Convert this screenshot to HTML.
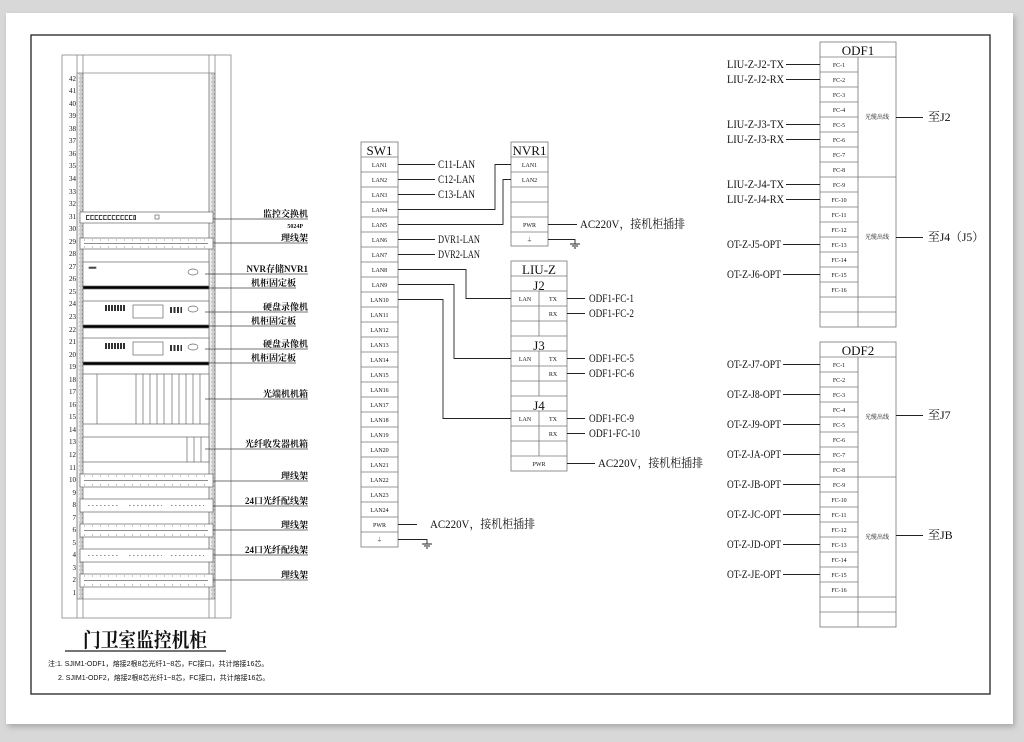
<!DOCTYPE html>
<html><head><meta charset="utf-8"><style>
html,body{margin:0;padding:0;background:#d8d8d8;width:1024px;height:742px;overflow:hidden}
svg{display:block}
text{font-family:"Liberation Serif","Noto Serif CJK SC","Noto Sans CJK SC",serif;fill:#111}
.s{font-size:6px}
.m{font-size:12px}
.r{font-size:9px;font-weight:bold}
</style></head><body>
<svg width="1024" height="742" viewBox="0 0 1024 742" xmlns="http://www.w3.org/2000/svg">
<defs>
<pattern id="rail" width="6" height="4" patternUnits="userSpaceOnUse"><rect width="6" height="4" fill="#eee"/><circle cx="3" cy="2" r="1.2" fill="none" stroke="#999" stroke-width="0.6"/></pattern>
<filter id="sh" x="-5%" y="-5%" width="110%" height="110%"><feDropShadow dx="2" dy="3" stdDeviation="3" flood-color="#888" flood-opacity="0.6"/></filter>
</defs>
<rect x="6" y="13" width="1007" height="711" fill="#fff" filter="url(#sh)"/>
<rect x="31" y="35" width="959" height="659" fill="none" stroke="#222" stroke-width="1.3"/>

<!-- RACK -->
<g stroke="#888" stroke-width="0.8" fill="none">
<rect x="62" y="55" width="169" height="563"/>
<rect x="77" y="73" width="6" height="526" fill="url(#rail)"/>
<rect x="209" y="73" width="6" height="526" fill="url(#rail)"/>
<line x1="77" y1="55" x2="77" y2="618"/><line x1="83" y1="55" x2="83" y2="618"/>
<line x1="209" y1="55" x2="209" y2="618"/><line x1="215" y1="55" x2="215" y2="618"/>
<line x1="83" y1="73" x2="209" y2="73"/>
<line x1="83" y1="599" x2="209" y2="599"/>
</g>
<g font-size="7" text-anchor="end" style="font-family:'Liberation Serif',serif">
<text x="76" y="81">42</text><text x="76" y="93">41</text><text x="76" y="106">40</text><text x="76" y="118">39</text><text x="76" y="131">38</text><text x="76" y="143">37</text><text x="76" y="156">36</text><text x="76" y="168">35</text><text x="76" y="181">34</text><text x="76" y="194">33</text><text x="76" y="206">32</text><text x="76" y="219">31</text><text x="76" y="231">30</text><text x="76" y="244">29</text><text x="76" y="256">28</text><text x="76" y="269">27</text><text x="76" y="281">26</text><text x="76" y="294">25</text><text x="76" y="306">24</text><text x="76" y="319">23</text><text x="76" y="332">22</text><text x="76" y="344">21</text><text x="76" y="357">20</text><text x="76" y="369">19</text><text x="76" y="382">18</text><text x="76" y="394">17</text><text x="76" y="407">16</text><text x="76" y="419">15</text><text x="76" y="432">14</text><text x="76" y="444">13</text><text x="76" y="457">12</text><text x="76" y="470">11</text><text x="76" y="482">10</text><text x="76" y="495">9</text><text x="76" y="507">8</text><text x="76" y="520">7</text><text x="76" y="532">6</text><text x="76" y="545">5</text><text x="76" y="557">4</text><text x="76" y="570">3</text><text x="76" y="582">2</text><text x="76" y="595">1</text>
</g>
<g stroke="#666" stroke-width="0.7" fill="#fff">
<rect x="80" y="212" width="133" height="11"/>
<line x1="86" y1="217.5" x2="136" y2="217.5" stroke="#444" stroke-width="5" stroke-dasharray="3.5 0.8"/>
<line x1="87" y1="217.5" x2="135" y2="217.5" stroke="#fff" stroke-width="3" stroke-dasharray="2.5 1.8"/>
<rect x="155" y="215" width="4" height="4"/>
<rect x="80" y="238" width="133" height="11"/>
<line x1="84" y1="240" x2="208" y2="240" stroke-dasharray="1 7"/>
<line x1="84" y1="243.5" x2="208" y2="243.5"/>
<line x1="84" y1="247" x2="208" y2="247" stroke-dasharray="1 7"/>
<rect x="83" y="262" width="126" height="26"/>
<rect x="83" y="286" width="126" height="3" fill="#000"/>
<ellipse cx="193" cy="272" rx="5" ry="3"/>
<rect x="89" y="267" width="7" height="1.5" fill="#333"/>
<rect x="83" y="301" width="126" height="26"/>
<rect x="83" y="325" width="126" height="3" fill="#000"/>
<rect x="133" y="305" width="30" height="13"/><ellipse cx="193" cy="309" rx="5" ry="3"/>
<line x1="105" y1="308" x2="125" y2="308" stroke="#333" stroke-width="6" stroke-dasharray="2 1"/>
<line x1="170" y1="310" x2="182" y2="310" stroke="#333" stroke-width="6" stroke-dasharray="2 1.5"/>
<rect x="83" y="338" width="126" height="26"/>
<rect x="83" y="362" width="126" height="3" fill="#000"/>
<rect x="133" y="342" width="30" height="13"/><ellipse cx="193" cy="347" rx="5" ry="3"/>
<line x1="105" y1="346" x2="125" y2="346" stroke="#333" stroke-width="6" stroke-dasharray="2 1"/>
<line x1="170" y1="348" x2="182" y2="348" stroke="#333" stroke-width="6" stroke-dasharray="2 1.5"/>
<rect x="83" y="374" width="126" height="50"/>
<line x1="97" y1="374" x2="97" y2="424"/><line x1="136" y1="374" x2="136" y2="424"/><line x1="143" y1="374" x2="143" y2="424"/><line x1="150" y1="374" x2="150" y2="424"/><line x1="157" y1="374" x2="157" y2="424"/><line x1="164" y1="374" x2="164" y2="424"/><line x1="172" y1="374" x2="172" y2="424"/><line x1="179" y1="374" x2="179" y2="424"/><line x1="186" y1="374" x2="186" y2="424"/><line x1="193" y1="374" x2="193" y2="424"/><line x1="200" y1="374" x2="200" y2="424"/>
<rect x="83" y="437" width="126" height="25"/>
<line x1="187" y1="437" x2="187" y2="462"/><line x1="194" y1="437" x2="194" y2="462"/><line x1="201" y1="437" x2="201" y2="462"/>
<rect x="80" y="474" width="133" height="13"/>
<line x1="84" y1="476" x2="208" y2="476" stroke-dasharray="1 7"/><line x1="84" y1="480.5" x2="208" y2="480.5"/><line x1="84" y1="485" x2="208" y2="485" stroke-dasharray="1 7"/>
<rect x="80" y="499" width="133" height="13"/>
<line x1="88" y1="505.5" x2="120" y2="505.5" stroke-dasharray="1.5 2.5"/><line x1="129" y1="505.5" x2="162" y2="505.5" stroke-dasharray="1.5 2.5"/><line x1="171" y1="505.5" x2="204" y2="505.5" stroke-dasharray="1.5 2.5"/>
<rect x="80" y="524" width="133" height="13"/>
<line x1="84" y1="526" x2="208" y2="526" stroke-dasharray="1 7"/><line x1="84" y1="530.5" x2="208" y2="530.5"/><line x1="84" y1="535" x2="208" y2="535" stroke-dasharray="1 7"/>
<rect x="80" y="549" width="133" height="13"/>
<line x1="88" y1="555.5" x2="120" y2="555.5" stroke-dasharray="1.5 2.5"/><line x1="129" y1="555.5" x2="162" y2="555.5" stroke-dasharray="1.5 2.5"/><line x1="171" y1="555.5" x2="204" y2="555.5" stroke-dasharray="1.5 2.5"/>
<rect x="80" y="574" width="133" height="13"/>
<line x1="84" y1="576" x2="208" y2="576" stroke-dasharray="1 7"/><line x1="84" y1="580.5" x2="208" y2="580.5"/><line x1="84" y1="585" x2="208" y2="585" stroke-dasharray="1 7"/>
</g>
<g stroke="#444" stroke-width="0.8">
<line x1="213" y1="219" x2="308" y2="219"/><line x1="213" y1="243" x2="308" y2="243"/><line x1="205" y1="274" x2="308" y2="274"/><line x1="209" y1="288" x2="296" y2="288"/><line x1="205" y1="312" x2="308" y2="312"/><line x1="209" y1="326" x2="296" y2="326"/><line x1="205" y1="349" x2="308" y2="349"/><line x1="209" y1="363" x2="296" y2="363"/><line x1="205" y1="399" x2="308" y2="399"/><line x1="205" y1="449" x2="308" y2="449"/><line x1="213" y1="481" x2="308" y2="481"/><line x1="213" y1="506" x2="308" y2="506"/><line x1="213" y1="530" x2="308" y2="530"/><line x1="213" y1="555" x2="308" y2="555"/><line x1="213" y1="580" x2="308" y2="580"/>
</g>
<g class="r" text-anchor="end">
<text class="r" x="308" y="217">监控交换机</text><text x="303" y="228" style="font-size:6px">5024P</text>
<text class="r" x="308" y="241">理线架</text>
<text class="r" x="308" y="272">NVR存储NVR1</text>
<text class="r" x="296" y="286">机柜固定板</text>
<text class="r" x="308" y="310">硬盘录像机</text>
<text class="r" x="296" y="324">机柜固定板</text>
<text class="r" x="308" y="347">硬盘录像机</text>
<text class="r" x="296" y="361">机柜固定板</text>
<text class="r" x="308" y="397">光端机机箱</text>
<text class="r" x="308" y="447">光纤收发器机箱</text>
<text class="r" x="308" y="479">理线架</text>
<text class="r" x="308" y="504">24口光纤配线架</text>
<text class="r" x="308" y="528">理线架</text>
<text class="r" x="308" y="553">24口光纤配线架</text>
<text class="r" x="308" y="578">理线架</text>
</g>
<text x="83" y="647" textLength="124" lengthAdjust="spacingAndGlyphs" style="font-size:20px;font-weight:bold">门卫室监控机柜</text>
<line x1="65" y1="651" x2="226" y2="651" stroke="#222" stroke-width="1.2"/>
<text x="48" y="666" style="font-size:7px;font-family:'Liberation Sans','Noto Sans CJK SC',sans-serif">注:1. SJIM1-ODF1，熔接2根8芯光纤1~8芯，FC接口，共计熔接16芯。</text>
<text x="58" y="680" style="font-size:7px;font-family:'Liberation Sans','Noto Sans CJK SC',sans-serif">2. SJIM1-ODF2，熔接2根8芯光纤1~8芯，FC接口，共计熔接16芯。</text>

<g stroke="#777" stroke-width="0.8" fill="none">
<rect x="361" y="142" width="37" height="405"/>
<path d="M361 157H398M361 172H398M361 187H398M361 202H398M361 217H398M361 232H398M361 247H398M361 262H398M361 277H398M361 292H398M361 307H398M361 322H398M361 337H398M361 352H398M361 367H398M361 382H398M361 397H398M361 412H398M361 427H398M361 442H398M361 457H398M361 472H398M361 487H398M361 502H398M361 517H398M361 532H398"/>
<rect x="511" y="142" width="37" height="104"/>
<path d="M511 157H548M511 172H548M511 187H548M511 202H548M511 217H548M511 232H548"/>
<rect x="511" y="261" width="56" height="210"/>
<path d="M511 276H567M511 291H567M511 306H567M511 321H567M511 336H567M511 351H567M511 366H567M511 381H567M511 396H567M511 411H567M511 426H567M511 441H567M511 456H567"/>
<path d="M539 291V336M539 351V396M539 411V456"/>
</g>
<g text-anchor="middle">
<text x="379.5" y="155" font-size="13">SW1</text>
<text class="s" x="379.5" y="167">LAN1</text><text class="s" x="379.5" y="182">LAN2</text><text class="s" x="379.5" y="197">LAN3</text><text class="s" x="379.5" y="212">LAN4</text><text class="s" x="379.5" y="227">LAN5</text><text class="s" x="379.5" y="242">LAN6</text><text class="s" x="379.5" y="257">LAN7</text><text class="s" x="379.5" y="272">LAN8</text><text class="s" x="379.5" y="287">LAN9</text><text class="s" x="379.5" y="302">LAN10</text><text class="s" x="379.5" y="317">LAN11</text><text class="s" x="379.5" y="332">LAN12</text><text class="s" x="379.5" y="347">LAN13</text><text class="s" x="379.5" y="362">LAN14</text><text class="s" x="379.5" y="377">LAN15</text><text class="s" x="379.5" y="392">LAN16</text><text class="s" x="379.5" y="407">LAN17</text><text class="s" x="379.5" y="422">LAN18</text><text class="s" x="379.5" y="437">LAN19</text><text class="s" x="379.5" y="452">LAN20</text><text class="s" x="379.5" y="467">LAN21</text><text class="s" x="379.5" y="482">LAN22</text><text class="s" x="379.5" y="497">LAN23</text><text class="s" x="379.5" y="512">LAN24</text><text class="s" x="379.5" y="527">PWR</text><text class="s" x="379.5" y="542" font-size="8">⏚</text>
<text x="529.5" y="155" font-size="13">NVR1</text>
<text class="s" x="529.5" y="167">LAN1</text><text class="s" x="529.5" y="182">LAN2</text><text class="s" x="529.5" y="227">PWR</text><text class="s" x="529.5" y="242">⏚</text>
<text x="539" y="274" font-size="13">LIU-Z</text>
<text x="539" y="290" font-size="13">J2</text><text x="539" y="350" font-size="13">J3</text><text x="539" y="410" font-size="13">J4</text>
<text class="s" x="525" y="301">LAN</text><text class="s" x="553" y="301">TX</text><text class="s" x="553" y="316">RX</text>
<text class="s" x="525" y="361">LAN</text><text class="s" x="553" y="361">TX</text><text class="s" x="553" y="376">RX</text>
<text class="s" x="525" y="421">LAN</text><text class="s" x="553" y="421">TX</text><text class="s" x="553" y="436">RX</text>
<text class="s" x="539" y="466">PWR</text>
</g>
<g stroke="#222" stroke-width="0.9" fill="none">
<path d="M398 164.5H435M398 179.5H435M398 194.5H435M398 239.5H435M398 254.5H435"/>
<path d="M398 209.5H495V164.5H511M398 224.5H503V179.5H511"/>
<path d="M398 269.5H466V298.5H511M398 284.5H454V358.5H511M398 299.5H443V418.5H511"/>
<path d="M548 224.5H577M548 239.5H575V244M570 244H580M572 246H578M574 248H576"/>
<path d="M398 524.5H417M398 539.5H427V544M422 544H432M424 546H430M426 548H428"/>
<path d="M567 298.5H585M567 313.5H585M567 358.5H585M567 373.5H585M567 418.5H585M567 433.5H585M567 463.5H595"/>
</g>
<g class="m" lengthAdjust="spacingAndGlyphs">
<text x="438" y="168" textLength="37" lengthAdjust="spacingAndGlyphs">C11-LAN</text><text x="438" y="183" textLength="37" lengthAdjust="spacingAndGlyphs">C12-LAN</text><text x="438" y="198" textLength="37" lengthAdjust="spacingAndGlyphs">C13-LAN</text>
<text x="438" y="243" textLength="42" lengthAdjust="spacingAndGlyphs">DVR1-LAN</text><text x="438" y="258" textLength="42" lengthAdjust="spacingAndGlyphs">DVR2-LAN</text>
<text x="580" y="228" textLength="105" lengthAdjust="spacingAndGlyphs">AC220V，接机柜插排</text>
<text x="430" y="528" textLength="105" lengthAdjust="spacingAndGlyphs">AC220V，接机柜插排</text>
<text x="589" y="302" textLength="45" lengthAdjust="spacingAndGlyphs">ODF1-FC-1</text><text x="589" y="317" textLength="45" lengthAdjust="spacingAndGlyphs">ODF1-FC-2</text>
<text x="589" y="362" textLength="45" lengthAdjust="spacingAndGlyphs">ODF1-FC-5</text><text x="589" y="377" textLength="45" lengthAdjust="spacingAndGlyphs">ODF1-FC-6</text>
<text x="589" y="422" textLength="45" lengthAdjust="spacingAndGlyphs">ODF1-FC-9</text><text x="589" y="437" textLength="51" lengthAdjust="spacingAndGlyphs">ODF1-FC-10</text>
<text x="598" y="467" textLength="105" lengthAdjust="spacingAndGlyphs">AC220V，接机柜插排</text>
</g>

<g stroke="#777" stroke-width="0.8" fill="none">
<rect x="820" y="42" width="76" height="285"/>
<path d="M820 57H896M858 57V327M820 72H858M820 87H858M820 102H858M820 117H858M820 132H858M820 147H858M820 162H858M820 177H896M820 192H858M820 207H858M820 222H858M820 237H858M820 252H858M820 267H858M820 282H858M820 297H896M820 312H896"/>
<rect x="820" y="342" width="76" height="285"/>
<path d="M820 357H896M858 357V627M820 372H858M820 387H858M820 402H858M820 417H858M820 432H858M820 447H858M820 462H858M820 477H896M820 492H858M820 507H858M820 522H858M820 537H858M820 552H858M820 567H858M820 582H858M820 597H896M820 612H896"/>
</g>
<g text-anchor="middle">
<text x="858" y="55" font-size="13">ODF1</text>
<text class="s" x="839" y="67">FC-1</text><text class="s" x="839" y="82">FC-2</text><text class="s" x="839" y="97">FC-3</text><text class="s" x="839" y="112">FC-4</text><text class="s" x="839" y="127">FC-5</text><text class="s" x="839" y="142">FC-6</text><text class="s" x="839" y="157">FC-7</text><text class="s" x="839" y="172">FC-8</text><text class="s" x="839" y="187">FC-9</text><text class="s" x="839" y="202">FC-10</text><text class="s" x="839" y="217">FC-11</text><text class="s" x="839" y="232">FC-12</text><text class="s" x="839" y="247">FC-13</text><text class="s" x="839" y="262">FC-14</text><text class="s" x="839" y="277">FC-15</text><text class="s" x="839" y="292">FC-16</text>
<text class="s" x="877" y="119">光缆出线</text><text class="s" x="877" y="239">光缆出线</text>
<text x="858" y="355" font-size="13">ODF2</text>
<text class="s" x="839" y="367">FC-1</text><text class="s" x="839" y="382">FC-2</text><text class="s" x="839" y="397">FC-3</text><text class="s" x="839" y="412">FC-4</text><text class="s" x="839" y="427">FC-5</text><text class="s" x="839" y="442">FC-6</text><text class="s" x="839" y="457">FC-7</text><text class="s" x="839" y="472">FC-8</text><text class="s" x="839" y="487">FC-9</text><text class="s" x="839" y="502">FC-10</text><text class="s" x="839" y="517">FC-11</text><text class="s" x="839" y="532">FC-12</text><text class="s" x="839" y="547">FC-13</text><text class="s" x="839" y="562">FC-14</text><text class="s" x="839" y="577">FC-15</text><text class="s" x="839" y="592">FC-16</text>
<text class="s" x="877" y="419">光缆出线</text><text class="s" x="877" y="539">光缆出线</text>
</g>
<g stroke="#222" stroke-width="0.9">
<path d="M786 64.5H820M786 79.5H820M786 124.5H820M786 139.5H820M786 184.5H820M786 199.5H820M783 244.5H820M783 274.5H820"/>
<path d="M783 364.5H820M783 394.5H820M783 424.5H820M783 454.5H820M783 484.5H820M783 514.5H820M783 544.5H820M783 574.5H820"/>
<path d="M896 117.5H923M896 237.5H923M896 415.5H923M896 535.5H923"/>
</g>
<g class="m">
<text x="727" y="68" textLength="57" lengthAdjust="spacingAndGlyphs">LIU-Z-J2-TX</text><text x="727" y="83" textLength="57" lengthAdjust="spacingAndGlyphs">LIU-Z-J2-RX</text>
<text x="727" y="128" textLength="57" lengthAdjust="spacingAndGlyphs">LIU-Z-J3-TX</text><text x="727" y="143" textLength="57" lengthAdjust="spacingAndGlyphs">LIU-Z-J3-RX</text>
<text x="727" y="188" textLength="57" lengthAdjust="spacingAndGlyphs">LIU-Z-J4-TX</text><text x="727" y="203" textLength="57" lengthAdjust="spacingAndGlyphs">LIU-Z-J4-RX</text>
<text x="727" y="248" textLength="54" lengthAdjust="spacingAndGlyphs">OT-Z-J5-OPT</text><text x="727" y="278" textLength="54" lengthAdjust="spacingAndGlyphs">OT-Z-J6-OPT</text>
<text x="727" y="368" textLength="54" lengthAdjust="spacingAndGlyphs">OT-Z-J7-OPT</text><text x="727" y="398" textLength="54" lengthAdjust="spacingAndGlyphs">OT-Z-J8-OPT</text><text x="727" y="428" textLength="54" lengthAdjust="spacingAndGlyphs">OT-Z-J9-OPT</text><text x="727" y="458" textLength="54" lengthAdjust="spacingAndGlyphs">OT-Z-JA-OPT</text>
<text x="727" y="488" textLength="54" lengthAdjust="spacingAndGlyphs">OT-Z-JB-OPT</text><text x="727" y="518" textLength="54" lengthAdjust="spacingAndGlyphs">OT-Z-JC-OPT</text><text x="727" y="548" textLength="54" lengthAdjust="spacingAndGlyphs">OT-Z-JD-OPT</text><text x="727" y="578" textLength="54" lengthAdjust="spacingAndGlyphs">OT-Z-JE-OPT</text>
<text x="928" y="121">至J2</text><text x="928" y="241" textLength="56" lengthAdjust="spacingAndGlyphs">至J4（J5）</text>
<text x="928" y="419">至J7</text><text x="928" y="539">至JB</text>
</g>
</svg>
</body></html>
